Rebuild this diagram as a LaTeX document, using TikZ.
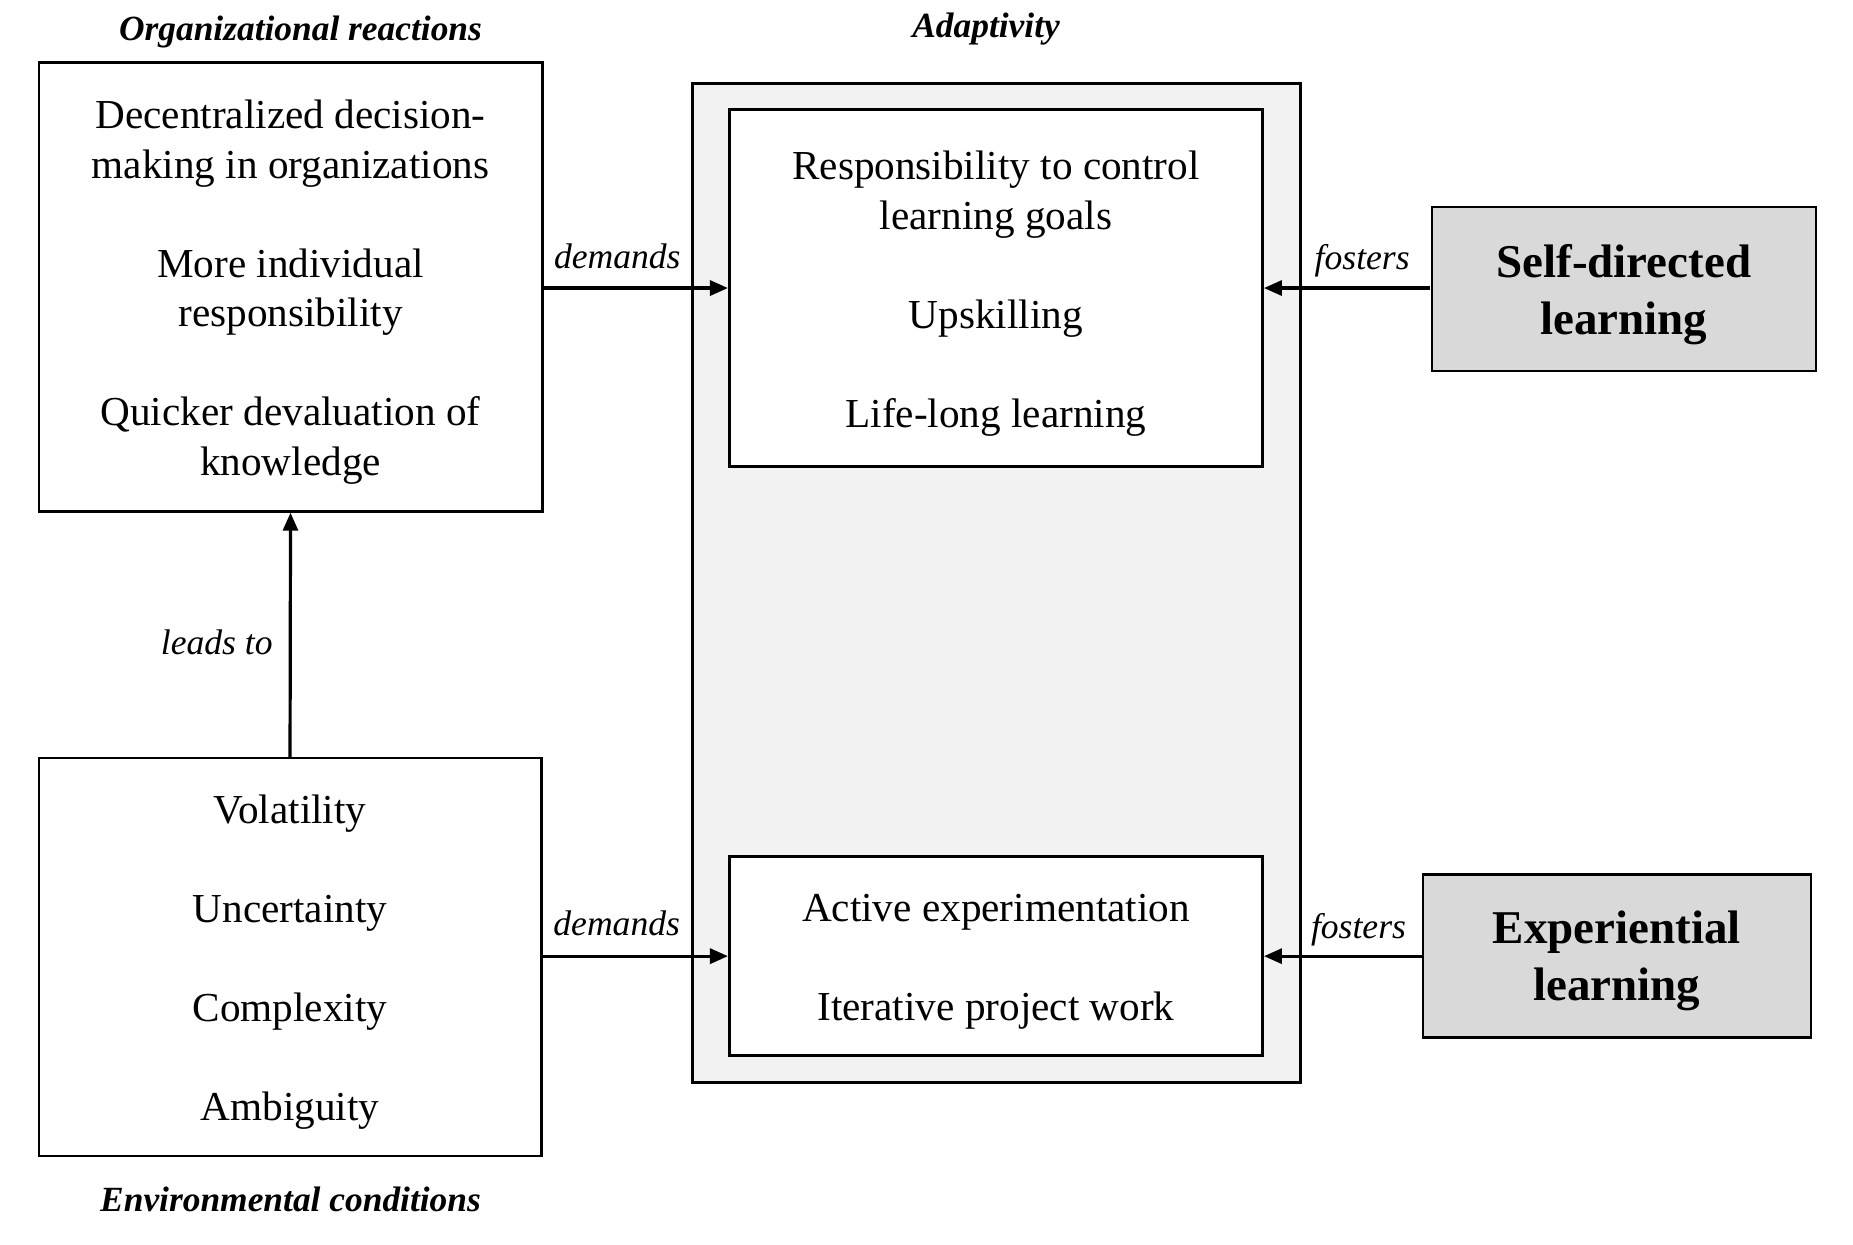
\documentclass[tikz,border=0pt]{standalone}
\usepackage{fontspec}
\setmainfont{Liberation Serif}
\usetikzlibrary{arrows.meta}
\begin{document}
\begin{tikzpicture}[x=0.5pt,y=-0.5pt,
  mybox/.style={draw, line width=1.3pt, fill=white, inner sep=0pt},
  txt/.style={inner sep=0pt, align=center, font=\fontsize{20.6}{24.75}\selectfont},
  outerbox/.style={draw, line width=1.3pt, fill=black!5, inner sep=0pt},
  learnbox/.style={draw, line width=1.3pt, fill=black!15, inner sep=0pt},
  learntxt/.style={inner sep=0pt, align=center, font=\fontsize{23.5}{28.5}\selectfont\bfseries},
  lab/.style={inner sep=0pt, anchor=base, font=\fontsize{17.8}{21}\selectfont\itshape},
  ttl/.style={inner sep=0pt, anchor=base, font=\fontsize{17.7}{21}\selectfont\bfseries\itshape},
  arr/.style={line width=1.6pt, -{Triangle[length=9pt,width=7.5pt]}}]
\useasboundingbox (0,0) rectangle (1853,1245);
\begin{scope}[scale=0.995]
% left boxes
\node[mybox, minimum width=251.7pt, minimum height=224.4pt] (tl) at (292,288.5) {};
\node[txt] (tltext) at ([yshift=-2.6pt]tl.center)
  {Decentralized decision-\\making in organizations\\[24.75pt]More individual\\responsibility\\[24.75pt]Quicker devaluation of\\knowledge};
\node[mybox, minimum width=251.2pt, minimum height=199pt] (bl) at (291.5,962) {};
\node[txt] (bltext) at ([yshift=-2.6pt]bl.center)
  {Volatility\\[24.75pt]Uncertainty\\[24.75pt]Complexity\\[24.75pt]Ambiguity};

% adaptivity
\node[outerbox, minimum width=304pt, minimum height=499.5pt] (ad) at (1001.5,586) {};
\node[mybox, minimum width=266.7pt, minimum height=178.6pt] (ti) at (1001,289.5) {};
\node[txt] (titext) at ([yshift=-2.8pt]ti.center)
  {Responsibility to control\\learning goals\\[24.75pt]Upskilling\\[24.75pt]Life-long learning};
\node[mybox, minimum width=266.7pt, minimum height=99.5pt] (bi) at (1001,961) {};
\node[txt] (bitext) at ([yshift=-2.6pt]bi.center)
  {Active experimentation\\[24.75pt]Iterative project work};

% learning boxes
\node[learnbox, minimum width=192pt, minimum height=82.1pt] (sd) at (1632,290.5) {};
\node[learntxt] (sdtext) at ([yshift=-2.6pt]sd.center) {Self-directed\\learning};
\node[learnbox, minimum width=194pt, minimum height=81.6pt] (ex) at (1625,961) {};
\node[learntxt] (extext) at ([yshift=-2.6pt]ex.center) {Experiential\\learning};

% titles
\node[ttl] (t1) at (302,40.7) {Organizational reactions};
\node[ttl] (t2) at (991,38.1) {Adaptivity};
\node[ttl] (t3) at (292,1218) {Environmental conditions};

% connectors
\draw[arr] (tl.east |- ti.west) -- node[lab, pos=0.4, yshift=9.9pt] {demands} (ti.west);
\draw[arr] (bl.east |- bi.west) -- node[lab, pos=0.4, yshift=10.4pt] {demands} (bi.west);
\draw[arr] (sd.west |- ti.east) -- node[lab, pos=0.41, yshift=9.3pt] {fosters} (ti.east);
\draw[arr] (ex.west |- bi.east) -- node[lab, pos=0.4, yshift=8.6pt] {fosters} (bi.east);
\draw[arr] (bl.north) -- node[inner sep=0pt, font=\fontsize{17.8}{21}\selectfont\itshape, pos=0.47, left=8pt] {leads to} (tl.south);
\end{scope}
\end{tikzpicture}
\end{document}
